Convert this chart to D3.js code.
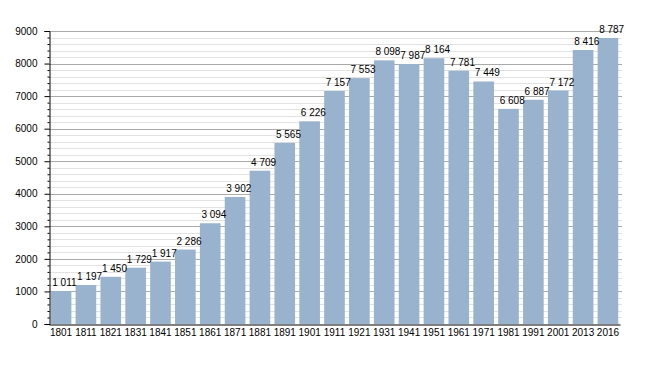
<!DOCTYPE html>
<html>
<head>
<meta charset="utf-8">
<script src="https://cdn.jsdelivr.net/npm/d3@7"></script>
<style>
  body { margin: 0; background: #fff; }
  text { font-family: "Liberation Sans", Arial, sans-serif; }
</style>
</head>
<body>
<div id="viz"></div>
<script>
const years = ['1801', '1811', '1821', '1831', '1841', '1851', '1861', '1871', '1881', '1891',
  '1901', '1911', '1921', '1931', '1941', '1951', '1961', '1971', '1981', '1991',
  '2001', '2013', '2016'];
const population = [1011, 1197, 1450, 1729, 1917, 2286, 3094, 3902, 4709, 5565,
  6226, 7157, 7553, 8098, 7987, 8164, 7781, 7449, 6608, 6887,
  7172, 8416, 8787];
const yTicks = [0, 1000, 2000, 3000, 4000, 5000, 6000, 7000, 8000, 9000];

const width = 648;
const height = 373;
const plotLeft = 49;
const plotRight = 620;
const plotTop = 31;
const plotBottom = 324;

const fmt = d3.formatLocale({ decimal: '.', thousands: '\u00a0', grouping: [3], currency: ['', ''] }).format(',');

const svg = d3.select('#viz')
  .append('svg')
  .attr('width', width)
  .attr('height', height);

const x = d3.scaleBand()
  .domain(years)
  .range([plotLeft, plotRight])
  .paddingInner(0.17)
  .paddingOuter(0.07);

const y = d3.scaleLinear()
  .domain([0, 9000])
  .range([plotBottom, plotTop]);

const minor = d3.range(0, 9001, 200).filter(v => v % 1000 !== 0);

// grid lines, minor then major
svg.append('g')
  .selectAll('line')
  .data(minor)
  .enter()
  .append('line')
  .attr('x1', plotLeft)
  .attr('x2', plotRight + 2)
  .attr('y1', d => Math.round(y(d)) + 0.5)
  .attr('y2', d => Math.round(y(d)) + 0.5)
  .attr('stroke', '#e2e2e2');

svg.append('g')
  .selectAll('line')
  .data(yTicks.slice(1))
  .enter()
  .append('line')
  .attr('x1', plotLeft)
  .attr('x2', plotRight + 2)
  .attr('y1', d => Math.round(y(d)) + 0.5)
  .attr('y2', d => Math.round(y(d)) + 0.5)
  .attr('stroke', '#aaaaaa');

// bars
svg.append('g')
  .selectAll('rect')
  .data(years)
  .enter()
  .append('rect')
  .attr('x', d => x(d))
  .attr('y', (d, i) => y(population[i]))
  .attr('width', x.bandwidth())
  .attr('height', (d, i) => plotBottom - y(population[i]))
  .attr('fill', '#99b2cd');

// value labels
svg.append('g')
  .selectAll('text')
  .data(years)
  .enter()
  .append('text')
  .attr('x', d => x(d) + 1.5)
  .attr('y', (d, i) => y(population[i]) - 5)
  .attr('font-size', 10)
  .attr('fill', '#000')
  .text((d, i) => fmt(population[i]));

// y axis
const yAxis = svg.append('g')
  .attr('transform', `translate(${plotLeft + 0.5},0)`)
  .call(d3.axisLeft(y).tickValues(yTicks).tickSize(5).tickPadding(7).tickFormat(d3.format('d')));
yAxis.select('.domain').attr('stroke', '#000');
yAxis.selectAll('.tick line').attr('stroke', '#000');
yAxis.selectAll('.tick text')
  .attr('font-size', 10)
  .attr('fill', '#000')
  .style('font-family', '"Liberation Sans", Arial, sans-serif');

svg.append('g')
  .attr('transform', `translate(${plotLeft + 0.5},0)`)
  .call(d3.axisLeft(y).tickValues(minor).tickSize(2).tickFormat(''))
  .call(g => g.select('.domain').remove())
  .selectAll('line').attr('stroke', '#000');

// x axis
const xAxis = svg.append('g')
  .attr('transform', `translate(0,${plotBottom + 0.5})`)
  .call(d3.axisBottom(x).tickSize(0).tickPadding(4).tickSizeOuter(0));
xAxis.select('.domain').attr('stroke', '#000').attr('stroke-width', 1.2);
xAxis.selectAll('.tick text')
  .attr('font-size', 10)
  .attr('fill', '#000')
  .style('font-family', '"Liberation Sans", Arial, sans-serif');
</script>
</body>
</html>
